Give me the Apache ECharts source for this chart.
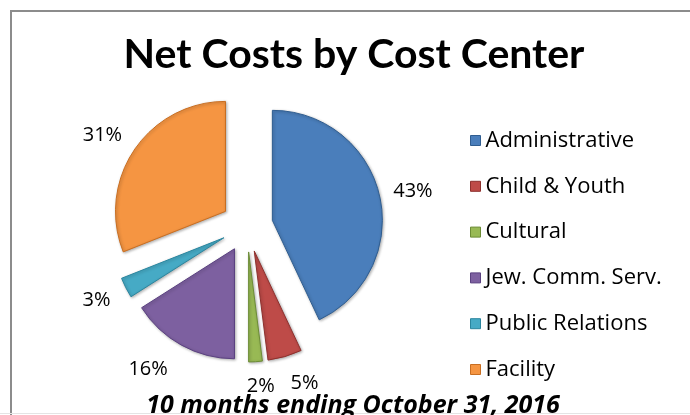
<!DOCTYPE html>
<html>
<head>
<meta charset="utf-8">
<script src="https://cdn.jsdelivr.net/npm/echarts@6/dist/echarts.min.js"></script>
<style>
html,body{margin:0;padding:0;background:#fff;overflow:hidden;}
#frame{position:absolute;left:10px;top:10px;width:700px;height:420px;border-left:2px solid #8c8c8c;border-top:2px solid #8c8c8c;}
#bottomline{position:absolute;left:0;top:413px;width:690px;height:1px;background:#e4e4e4;}
#chart{position:absolute;left:0;top:0;width:690px;height:415px;}
</style>
</head>
<body>
<div id="frame"></div>
<div id="bottomline"></div>
<div id="chart"></div>
<script>
const titleText = 'Net Costs by Cost Center';
const subtitleText = '10 months ending October 31, 2016';
const categories = ['Administrative', 'Child & Youth', 'Cultural', 'Jew. Comm. Serv.', 'Public Relations', 'Facility'];
const values = [43, 5, 2, 16, 3, 31];
const baseColors = ['#4A7EBB', '#BE4B48', '#98B954', '#7D60A0', '#46AAC5', '#F59542'];
const edgeColors = ['#2F5D90', '#8E302D', '#6C8C35', '#5A4080', '#2A859E', '#C86E22'];
// label nudges (px) to mimic Excel best-fit placement
const labelNudgeX = [0, 10, 3, -17, 1, -4];
const labelNudgeY = [2, -6, -9, -6, -3, 5];

const pieData = categories.map((name, i) => ({
  name: name, value: values[i], selected: true,
  itemStyle: {color: baseColors[i], borderColor: edgeColors[i], borderWidth: 1},
  select: {itemStyle: {color: baseColors[i], borderColor: edgeColors[i], borderWidth: 1}}
}));
const labelData = categories.map((name, i) => ({name: name, value: values[i], selected: true}));

const chart = echarts.init(document.getElementById('chart'), null, {renderer: 'canvas'});
chart.setOption({
  animation: false,
  backgroundColor: 'transparent',
  color: baseColors,
  title: [{
    text: titleText, left: 349, textAlign: 'center', top: 29,
    textStyle: {fontFamily: 'Lato', fontWeight: 'bold', fontSize: 41, color: '#000'}
  }, {
    text: subtitleText, left: 348, textAlign: 'center', top: 388,
    textStyle: {fontFamily: 'Open Sans', fontWeight: 'bold', fontStyle: 'italic', fontSize: 25, color: '#000'}
  }],
  legend: {
    orient: 'vertical', left: 465, top: 124.5, itemGap: 23.8,
    itemWidth: 10, itemHeight: 10, icon: 'rect',
    textStyle: {fontFamily: 'Open Sans', fontSize: 22, color: '#000', padding: [0, 0, 0, 0]},
    data: categories.map((n, i) => ({name: n, itemStyle: {color: baseColors[i], borderColor: edgeColors[i], borderWidth: 1}})),
    selectedMode: false
  },
  series: [{
    type: 'pie', center: [247, 226], radius: 110, startAngle: 90, clockwise: true,
    selectedMode: 'multiple', selectedOffset: 26, avoidLabelOverlap: false,
    label: {show: false}, labelLine: {show: false},
    emphasis: {disabled: true},
    itemStyle: {shadowColor: 'rgba(0,0,0,0.3)', shadowBlur: 3, shadowOffsetX: 1, shadowOffsetY: 1},
    data: pieData
  }, {
    type: 'pie', center: [247, 226], radius: [130, 152], startAngle: 90, clockwise: true,
    selectedMode: 'multiple', selectedOffset: 26, avoidLabelOverlap: false, silent: true,
    itemStyle: {color: 'rgba(0,0,0,0)'},
    select: {itemStyle: {color: 'rgba(0,0,0,0)', borderWidth: 0}},
    emphasis: {disabled: true},
    label: {show: true, position: 'inside', formatter: '{c}%', fontFamily: 'Open Sans', fontSize: 20, color: '#000'},
    labelLine: {show: false},
    labelLayout: function (p) { return {dx: labelNudgeX[p.dataIndex], dy: labelNudgeY[p.dataIndex]}; },
    data: labelData
  }]
});
</script>
</body>
</html>
